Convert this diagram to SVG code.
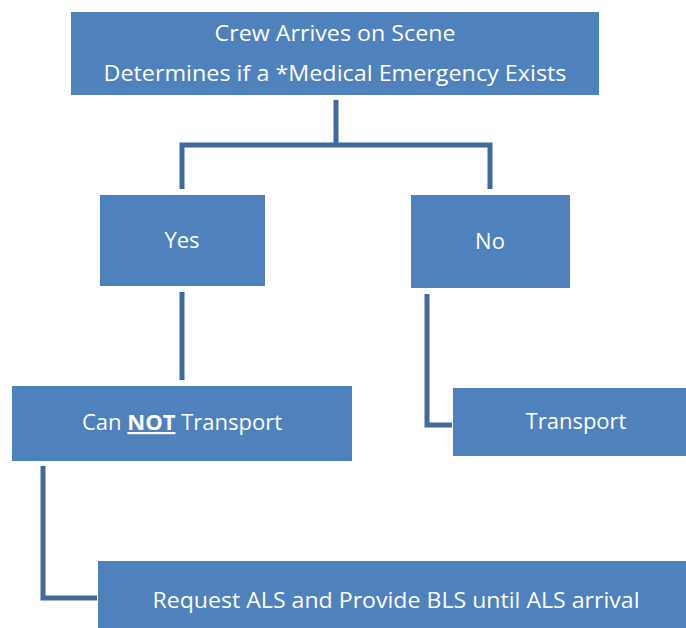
<svg xmlns="http://www.w3.org/2000/svg" width="686" height="628" viewBox="0 0 686 628">
<style>
.box{fill:#4F81BD;}
.t{font-family:"Open Sans","Noto Sans",sans-serif;font-size:22px;fill:#FFFFFF;text-anchor:middle;}
.c{fill:none;stroke:#41699B;stroke-width:5;stroke-linejoin:miter;}
</style>
<rect width="686" height="628" fill="#FFFFFF"/>
<g id="connectors">
<path class="c" d="M336 100 V145"/>
<path class="c" d="M182 189 V145 H490 V189"/>
<path class="c" d="M182 292 V380"/>
<path class="c" d="M427 294 V425 H452"/>
<path class="c" d="M43 466 V598 H97"/>
</g>
<g id="crew">
<rect class="box" x="71" y="12" width="528" height="83"/>
<text class="t" x="335" y="41" textLength="241" lengthAdjust="spacingAndGlyphs">Crew Arrives on Scene</text>
<text class="t" x="335" y="81" textLength="463" lengthAdjust="spacingAndGlyphs">Determines if a *Medical Emergency Exists</text>
</g>
<g id="yes">
<rect class="box" x="100" y="195" width="165" height="91"/>
<text class="t" x="182" y="248">Yes</text>
</g>
<g id="no">
<rect class="box" x="411" y="195" width="159" height="93"/>
<text class="t" x="490" y="249">No</text>
</g>
<g id="cannot">
<rect class="box" x="12" y="386" width="340" height="75"/>
<text class="t" x="182" y="430">Can <tspan font-weight="bold" text-decoration="underline">NOT</tspan> Transport</text>
</g>
<g id="transport">
<rect class="box" x="453" y="388" width="233" height="68"/>
<text class="t" x="576" y="429">Transport</text>
</g>
<g id="request">
<rect class="box" x="98" y="561" width="588" height="67"/>
<text class="t" x="396" y="608" textLength="487" lengthAdjust="spacingAndGlyphs">Request ALS and Provide BLS until ALS arrival</text>
</g>
</svg>
